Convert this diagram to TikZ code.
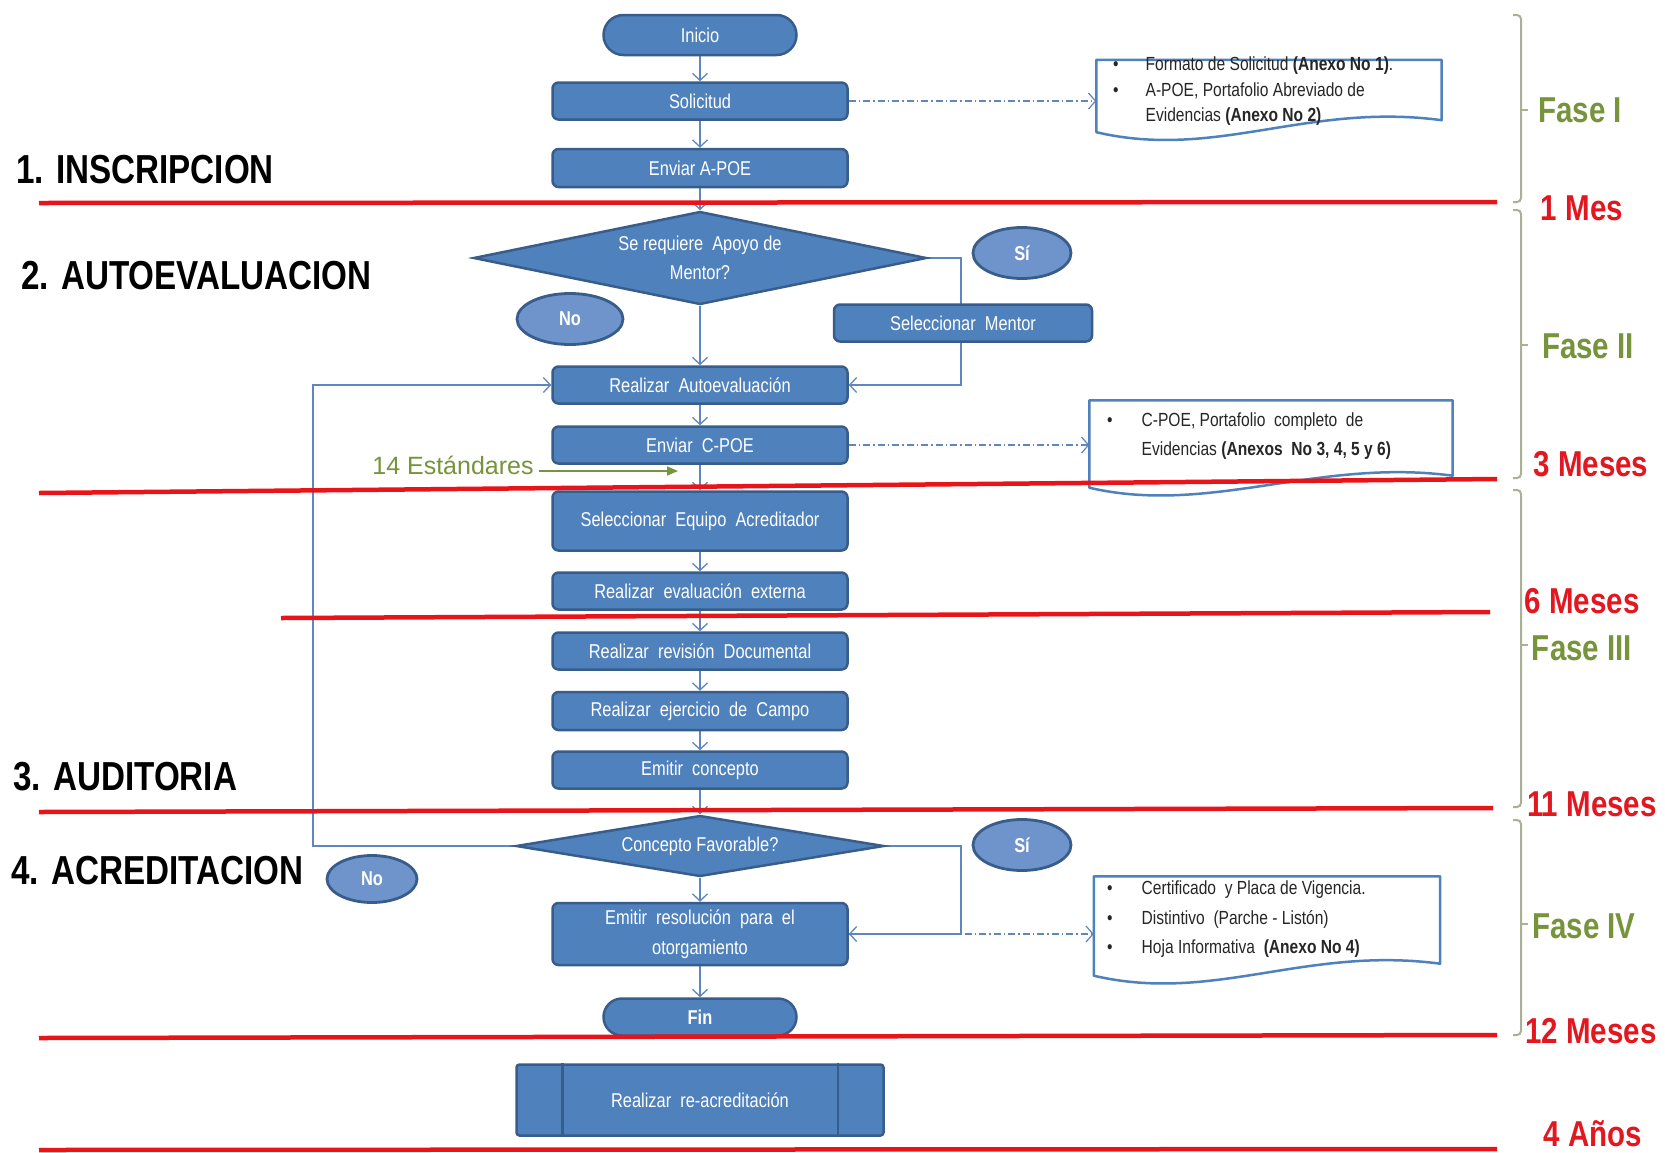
\documentclass[tikz,border=0pt]{standalone}
\usepackage{fontspec}
\setmainfont{Liberation Sans}
\newfontfamily\nar[FakeStretch=0.82]{Liberation Sans}
\usetikzlibrary{shapes.geometric,shapes.misc,arrows.meta,backgrounds}
\definecolor{boxblue}{HTML}{4F81BD}
\definecolor{boxborder}{HTML}{385D8A}
\definecolor{ynblue}{HTML}{6F94CB}
\definecolor{connblue}{HTML}{5F86BE}
\definecolor{redline}{HTML}{E8141A}
\definecolor{phasegreen}{HTML}{77933C}
\definecolor{mesred}{HTML}{E3171F}
\definecolor{bracecol}{HTML}{A9B093}
\tikzset{
 proc/.style={rectangle, rounded corners=6pt, draw=boxborder, fill=boxblue, line width=2.5pt,
   text=white, font=\nar\fontsize{20}{29.5}\selectfont, align=center, inner sep=0pt, minimum width=295pt},
 term/.style={rounded rectangle, draw=boxborder, fill=boxblue, line width=2.5pt, text=white,
   font=\nar\fontsize{20}{24}\selectfont, inner sep=0pt},
 dec/.style={diamond, draw=boxborder, fill=boxblue, line width=2.5pt, text=white,
   font=\nar\fontsize{20}{29}\selectfont, align=center, inner sep=0pt},
 yn/.style={ellipse, draw=boxborder, fill=ynblue, line width=2.8pt, text=white,
   font=\nar\bfseries\fontsize{20}{24}\selectfont, inner sep=0pt},
 flow/.style={draw=connblue, line width=1.3pt, -{Straight Barb[length=7pt,width=15pt]}},
 dd/.style={draw=connblue, line width=1.2pt, dash pattern=on 7pt off 3pt on 1.5pt off 3pt,
   -{Straight Barb[length=7pt,width=16pt]}},
 estarrow/.style={draw=phasegreen, line width=1.5pt, -{Triangle[length=11pt,width=9pt]}},
 redln/.style={draw=redline, line width=4.5pt},
 heading/.style={font=\nar\bfseries\fontsize{40.5}{44}\selectfont, anchor=base west, text=black, inner sep=0pt},
 phase/.style={font=\nar\bfseries\fontsize{36}{40}\selectfont, text=phasegreen, inner sep=0pt},
 mes/.style={font=\nar\bfseries\fontsize{36}{40}\selectfont, text=mesred, inner sep=0pt},
 notebox/.style={rectangle, inner sep=0pt},
 noteline/.style={draw=boxblue, line width=2.5pt, fill=white, line join=round},
 notetxt/.style={text=black!85, align=left, anchor=north west, inner sep=0pt},
 bracel/.style={draw=bracecol, line width=2pt, rounded corners=4pt},
 estlbl/.style={font=\fontsize{25}{28}\selectfont, text=phasegreen, inner sep=0pt}
}
\newcommand\docoutline[1]{%
  \draw[noteline] (#1.north west) -- (#1.north east) -- ([yshift=12pt]#1.south east)
    .. controls ([xshift=-135pt,yshift=30pt]#1.south east) and ([xshift=120pt,yshift=-28pt]#1.south west)
    .. (#1.south west) -- cycle;}
\begin{document}
\begin{tikzpicture}[x=1pt,y=-1pt]
\useasboundingbox (0,0) rectangle (1665,1152);
\begin{scope}[on background layer]
\fill[white] (0,0) rectangle (1665,1152);
\end{scope}

% ---------- flow nodes ----------
\node[term, minimum width=193pt, minimum height=40pt] (inicio) at (700,35) {Inicio};
\node[proc, minimum height=37pt] (sol) at (700,101) {Solicitud};
\node[proc, minimum height=38pt] (envA) at (700,168) {Enviar A-POE};
\node[dec, aspect=4.87, minimum width=453pt, minimum height=93pt] (dec1) at (700,258) {Se requiere\ \ Apoyo de\\Mentor?};
\node[yn, minimum width=98pt, minimum height=51pt] (si1) at (1022,253) {Sí};
\node[yn, minimum width=106pt, minimum height=51pt] (no1) at (570,319) {No};
\node[proc, minimum width=258pt, minimum height=37pt] (selM) at (963,323) {Seleccionar\ \ Mentor};
\node[proc, minimum height=37pt] (auto) at (700,385) {Realizar\ \ Autoevaluación};
\node[proc, minimum height=37pt] (envC) at (700,445) {Enviar\ \ C-POE};
\node[proc, minimum height=59pt] (selE) at (700,521) {Seleccionar\ \ Equipo\ \ Acreditador};
\node[proc, minimum height=37pt] (evx) at (700,591) {Realizar\ \ evaluación\ \ externa};
\node[proc, minimum height=37pt] (rev) at (700,651) {Realizar\ \ revisión\ \ Documental};
\node[proc, minimum height=38pt] (camp) at (700,711) {Realizar\ \ ejercicio\ \ de\ \ Campo};
\node[proc, minimum height=37pt] (emc) at (700,770) {Emitir\ \ concepto};
\node[dec, aspect=6, minimum width=368pt, minimum height=61pt] (dec2) at (700,846) {Concepto Favorable?};
\node[yn, minimum width=98pt, minimum height=51pt] (si2) at (1022,845) {Sí};
\node[yn, minimum width=90pt, minimum height=47pt] (no2) at (372,879) {No};
\node[proc, minimum height=62pt] (emr) at (700,934) {Emitir\ \ resolución\ \ para\ \ el\\otorgamiento};
\node[term, minimum width=193pt, minimum height=37pt, font=\nar\bfseries\fontsize{20}{24}\selectfont] (fin) at (700,1017) {Fin};
\node[proc, rounded corners=3pt, minimum width=367pt, minimum height=71pt] (reac) at (700,1100) {Realizar\ \ re-acreditación};
\draw[boxborder, line width=2.5pt] ([xshift=47pt]reac.north west) -- ([xshift=47pt]reac.south west);
\draw[boxborder, line width=2.5pt] ([xshift=-47pt]reac.north east) -- ([xshift=-47pt]reac.south east);

% ---------- note boxes ----------
\node[notebox, minimum width=345pt, minimum height=72pt] (note1) at (1269,96) {};
\node[notebox, minimum width=363pt, minimum height=87pt] (note2) at (1271,444) {};
\node[notebox, minimum width=346pt, minimum height=99pt] (note3) at (1267,926) {};
\docoutline{note1}
\docoutline{note2}
\docoutline{note3}
\node[notetxt, font=\nar\fontsize{19}{25.5}\selectfont] (t1) at (1113,57)
  {\textbullet\hspace{27pt}Formato de Solicitud \textbf{(Anexo No 1)}.\\
   \textbullet\hspace{27pt}A-POE, Portafolio Abreviado de\\
   \hphantom{\textbullet}\hspace{27pt}Evidencias \textbf{(Anexo No 2)}};
\node[notetxt, font=\nar\fontsize{19}{29}\selectfont] (t2) at (1107,413)
  {\textbullet\hspace{29pt}C-POE, Portafolio\ \ completo\ \ de\\
   \hphantom{\textbullet}\hspace{29pt}Evidencias \textbf{(Anexos\ \ No 3, 4, 5 y 6)}};
\node[notetxt, font=\nar\fontsize{19}{29.5}\selectfont] (t3) at (1107,881)
  {\textbullet\hspace{29pt}Certificado\ \ y Placa de Vigencia.\\
   \textbullet\hspace{29pt}Distintivo\ \ (Parche - Listón)\\
   \textbullet\hspace{29pt}Hoja Informativa\ \ \textbf{(Anexo No 4)}};

% ---------- connectors ----------
\coordinate (siR1) at (961,258);
\coordinate (siR2) at (961,846);
\coordinate (loopL) at (313,846);
\begin{scope}[on background layer]
\draw[flow] (inicio.south) -- (sol.north);
\draw[flow] (sol.south) -- (envA.north);
\draw[flow] (envA.south) -- (dec1.north);
\draw[flow] (dec1.south) -- (auto.north);
\draw[flow] (dec1.east) -- (siR1) |- (auto.east);
\draw[flow] (auto.south) -- (envC.north);
\draw[flow] (envC.south) -- (selE.north);
\draw[flow] (selE.south) -- (evx.north);
\draw[flow] (evx.south) -- (rev.north);
\draw[flow] (rev.south) -- (camp.north);
\draw[flow] (camp.south) -- (emc.north);
\draw[flow] (emc.south) -- (dec2.north);
\draw[flow] (dec2.south) -- (emr.north);
\draw[flow] (emr.south) -- (fin.north);
\draw[flow] (dec2.west) -- (loopL) |- (auto.west);
\draw[flow] (dec2.east) -- (siR2) |- (emr.east);
\end{scope}
\draw[dd] (sol.east) -- (sol.east -| note1.west);
\draw[dd] (envC.east) -- (envC.east -| note2.west);
\draw[dd] (emr.east) -- (emr.east -| note3.west);

% 14 Estandares
\node[estlbl] (est) at (453,465) {14 Estándares};
\coordinate (estTip) at (678,471);
\draw[estarrow] (est.east) ++(5,6) -- (estTip);

% ---------- red period lines ----------
\draw[redln] (39,203) -- (1497,202);
\draw[redln] (39,493) -- (1497,479);
\draw[redln] (281,618) -- (1490,612);
\draw[redln] (39,812) -- (1493,808);
\draw[redln] (39,1038) -- (1497,1035);
\draw[redln] (39,1150) -- (1497,1149);

% ---------- stage headings ----------
\node[heading] (h1) at (16,183) {1. INSCRIPCION};
\node[heading] (h2) at (21,289) {2. AUTOEVALUACION};
\node[heading] (h3) at (13,790) {3. AUDITORIA};
\node[heading] (h4) at (11,884) {4. ACREDITACION};

% ---------- braces ----------
\draw[bracel] (1513,15) -- (1521,15) -- (1521,202) -- (1513,202);
\draw[bracel] (1521,110) -- (1528,110);
\draw[bracel] (1513,210) -- (1521,210) -- (1521,478) -- (1513,478);
\draw[bracel] (1521,345) -- (1528,345);
\draw[bracel] (1513,490) -- (1521,490) -- (1521,807) -- (1513,807);
\draw[bracel] (1521,645) -- (1528,645);
\draw[bracel] (1513,820) -- (1521,820) -- (1521,1035) -- (1513,1035);
\draw[bracel] (1521,924) -- (1528,924);

% ---------- phase / time labels ----------
\node[phase] (f1) at (1580,110) {Fase I};
\node[mes] (m1) at (1582,208) {1 Mes};
\node[phase] (f2) at (1588,346) {Fase II};
\node[mes] (m3) at (1591,464) {3 Meses};
\node[mes] (m6) at (1582,601) {6 Meses};
\node[phase] (f3) at (1582,648) {Fase III};
\node[mes] (m11) at (1592,804) {11 Meses};
\node[phase] (f4) at (1584,926) {Fase IV};
\node[mes] (m12) at (1591,1031) {12 Meses};
\node[mes] (a4) at (1593,1134) {4 Años};
\end{tikzpicture}
\end{document}
